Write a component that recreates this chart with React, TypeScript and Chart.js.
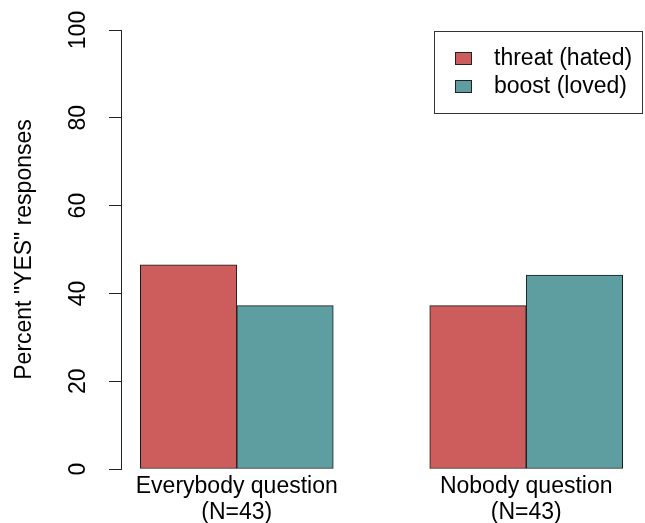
import React, { useEffect, useRef } from 'react';
import { Chart, registerables } from 'chart.js';

Chart.register(...registerables);

const groupLabels: string[][] = [
  ['Everybody question', '(N=43)'],
  ['Nobody question', '(N=43)'],
];
const seriesNames = ['threat (hated)', 'boost (loved)'];
const threatValues = [46.5, 37.2];
const boostValues = [37.2, 44.2];
const yTickValues = [0, 20, 40, 60, 80, 100];
const seriesColors = ['#CD5C5C', '#5F9EA0'];

const FONT = '"Liberation Sans", Arial, Helvetica, sans-serif';
const FONT_SIZE = 23;

// R barplot(beside=TRUE) layout: each group has nSeries bars of width 1 and a gap of 1 before it
const nSeries = seriesNames.length;
const groupStart = (g: number) => g * (nSeries + 1) + 1;
const barCenter = (g: number, s: number) => groupStart(g) + s + 0.5;
const groupCenter = (g: number) => groupStart(g) + nSeries / 2;
const xLo = groupStart(0);
const xHi = groupStart(groupLabels.length - 1) + nSeries;
const xPad = (xHi - xLo) * 0.04;

const rLegend = {
  id: 'rLegend',
  afterDraw(chart: any) {
    const { ctx, chartArea } = chart;
    const ds = chart.data.datasets;
    ctx.save();
    ctx.font = `${FONT_SIZE}px ${FONT}`;
    const maxW = Math.max(...ds.map((d: any) => ctx.measureText(d.label).width));
    const padL = 21, sw = 17, sh = 13, gap = 22, padR = 10, rowH = 28, padT = 27;
    const w = padL + sw + gap + maxW + padR;
    const h = padT * 2 + rowH * (ds.length - 1);
    const right = Math.round(chartArea.right);
    const left = Math.round(right - w);
    const top = Math.round(chartArea.top + 1);
    ctx.lineWidth = 1;
    ctx.strokeStyle = '#333333';
    ctx.strokeRect(left + 0.5, top + 0.5, right - left, Math.round(h));
    ds.forEach((d: any, i: number) => {
      const cy = top + padT + i * rowH;
      const sx = left + padL;
      ctx.fillStyle = d.backgroundColor;
      ctx.fillRect(sx, Math.round(cy - sh / 2), sw, sh);
      ctx.strokeStyle = '#222222';
      ctx.strokeRect(sx + 0.5, Math.round(cy - sh / 2) + 0.5, sw - 1, sh - 1);
      ctx.fillStyle = '#000000';
      ctx.textAlign = 'left';
      ctx.textBaseline = 'middle';
      ctx.fillText(d.label, sx + sw + gap, cy + 1);
    });
    ctx.restore();
  },
};

export default function App() {
  const canvasRef = useRef<HTMLCanvasElement | null>(null);

  useEffect(() => {
    if (!canvasRef.current) return;
    const seriesValues = [threatValues, boostValues];
    const chart = new Chart(canvasRef.current, {
      type: 'bar',
      data: {
        datasets: seriesNames.map((name, s) => ({
          label: name,
          data: groupLabels.map((_, g) => ({ x: barCenter(g, s), y: seriesValues[s][g] })),
          backgroundColor: seriesColors[s],
          borderColor: '#1a1a1a',
          borderWidth: 1,
          borderSkipped: false,
          grouped: false,
          barPercentage: 1,
          categoryPercentage: 1,
        })),
      },
      options: {
        animation: false,
        responsive: false,
        events: [],
        layout: { padding: { top: 30, right: 3, left: 0, bottom: 0 } },
        plugins: {
          legend: { display: false },
          tooltip: { enabled: false },
        },
        scales: {
          x: {
            type: 'linear',
            offset: false,
            min: xLo - xPad,
            max: xHi + xPad,
            afterBuildTicks: (scale: any) => {
              scale.ticks = groupLabels.map((_, g) => ({ value: groupCenter(g) }));
            },
            afterFit: (scale: any) => {
              scale.height = 54;
            },
            grid: { display: false, drawTicks: false, offset: false },
            border: { display: false },
            ticks: {
              autoSkip: false,
              maxRotation: 0,
              minRotation: 0,
              padding: 4,
              color: '#000000',
              font: { family: FONT, size: FONT_SIZE, lineHeight: 1.16 },
              callback: (_v: any, i: number) => groupLabels[i],
            },
          },
          y: {
            type: 'linear',
            min: 0,
            max: 100,
            afterBuildTicks: (scale: any) => {
              scale.ticks = yTickValues.map((v) => ({ value: v }));
            },
            afterFit: (scale: any) => {
              scale.width = 121;
            },
            grid: {
              display: true,
              drawOnChartArea: false,
              drawTicks: true,
              tickLength: 12,
              color: '#222222',
              lineWidth: 1,
            },
            border: { display: true, color: '#222222', width: 1 },
            ticks: {
              minRotation: 90,
              maxRotation: 90,
              crossAlign: 'center',
              padding: 11,
              color: '#000000',
              font: { family: FONT, size: FONT_SIZE },
            },
            title: {
              display: true,
              text: 'Percent "YES" responses',
              color: '#000000',
              font: { family: FONT, size: FONT_SIZE, lineHeight: 1.2 },
              padding: { top: 11, bottom: 0 },
            },
          },
        },
      } as any,
      plugins: [rLegend],
    });
    return () => chart.destroy();
  }, []);

  return (
    <div style={{ position: 'fixed', left: 0, top: 0, width: 645, height: 523, background: '#ffffff' }}>
      <canvas ref={canvasRef} width={645} height={523} style={{ display: 'block' }} />
    </div>
  );
}
